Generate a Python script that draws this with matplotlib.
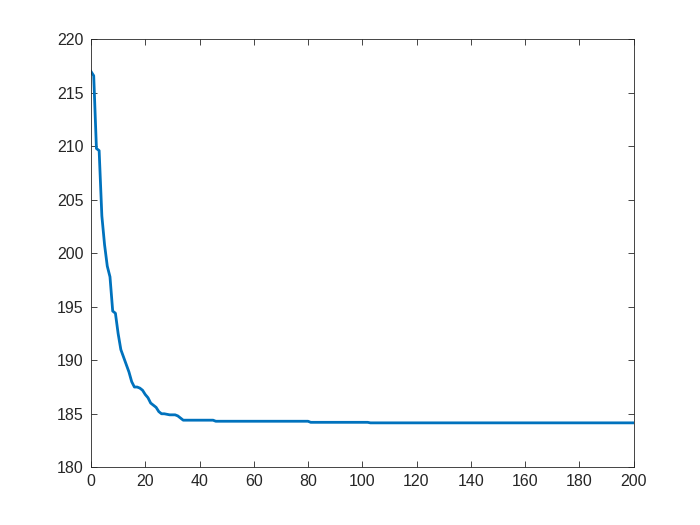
import numpy as np
import matplotlib
matplotlib.use('Agg')
from matplotlib import pyplot as plt

# best fitness per iteration
iters = [0, 1, 2, 3, 4, 5, 6, 7, 8, 9, 10, 11, 12, 13, 14, 15, 16, 17,
         18, 19, 20, 21, 22, 23, 24, 25, 26, 27, 28, 29, 30, 31, 32, 33,
         34, 45, 46, 80, 81, 102, 103, 200]
fitness = [217.0, 216.6, 209.8, 209.6, 203.5, 200.8, 198.8, 197.8, 194.6,
           194.4, 192.5, 191.0, 190.3, 189.6, 188.9, 188.0, 187.5, 187.5,
           187.4, 187.2, 186.8, 186.5, 186.0, 185.8, 185.6, 185.2, 185.0,
           185.0, 184.95, 184.9, 184.9, 184.9, 184.8, 184.6, 184.4, 184.4,
           184.3, 184.3, 184.2, 184.2, 184.15, 184.15]
xticks = np.arange(0, 201, 20)
yticks = np.arange(180, 221, 5)

plt.rcParams['font.family'] = ['Liberation Sans', 'DejaVu Sans']
AX_COLOR = '#262626'

fig = plt.figure(figsize=(7, 5.25), dpi=100)
ax = fig.add_axes([0.13, 0.11, 0.775, 0.815])
ax.plot(iters, fitness, color='#0072BD', linewidth=2)
ax.set_xlim(0, 200)
ax.set_ylim(180, 220)
ax.set_xticks(xticks)
ax.set_yticks(yticks)
ax.tick_params(direction='in', top=True, right=True, length=4, width=0.6,
               colors=AX_COLOR, labelsize=11.5, labelcolor=AX_COLOR)
ax.tick_params(axis='x', pad=5)
ax.tick_params(axis='y', pad=5.5)
for s in ax.spines.values():
    s.set_color(AX_COLOR)
    s.set_linewidth(0.6)

fig.savefig('out.png', dpi=100)
